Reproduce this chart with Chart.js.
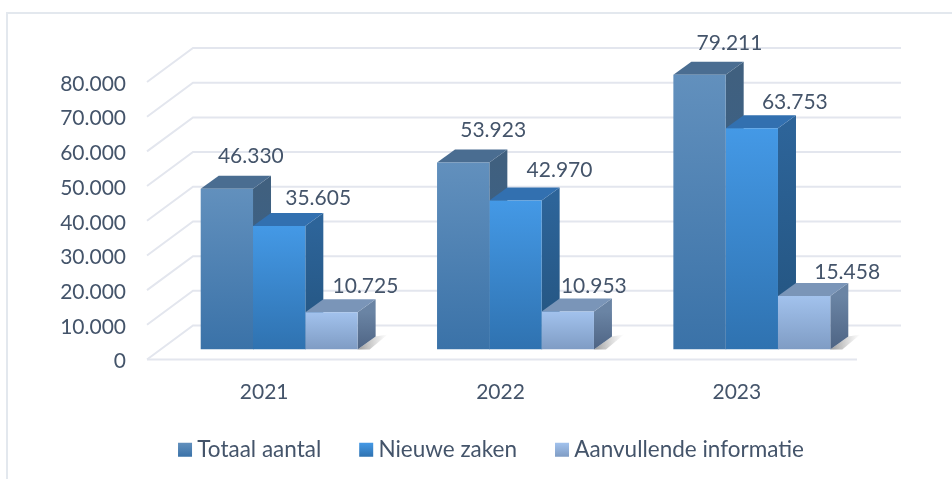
<!DOCTYPE html>
<html>
<head>
<meta charset="utf-8">
<script src="https://cdn.jsdelivr.net/npm/chart.js@4"></script>
<style>
  html, body { margin: 0; padding: 0; background: #ffffff; }
  #wrap { position: relative; width: 952px; height: 479px; overflow: hidden; }
  #frame { position: absolute; left: 6px; top: 12px; width: 946px; height: 467px; border-left: 2px solid #e3e8ee; border-top: 2px solid #e3e8ee; box-sizing: border-box; }
</style>
</head>
<body>
<div id="wrap">
  <div id="frame"></div>
  <canvas id="myChart" width="952" height="479" style="position:absolute;left:0;top:0"></canvas>
</div>
<script>
// Chart data
const years = ['2021', '2022', '2023'];
const totaalAantal = [46330, 53923, 79211];
const nieuweZaken = [35605, 42970, 63753];
const aanvullendeInformatie = [10725, 10953, 15458];
const seriesNames = ['Totaal aantal', 'Nieuwe zaken', 'Aanvullende informatie'];

// Colours per series: front gradient, top face, side gradient
const frontColors = [['#6290bd', '#3a72a8'], ['#4499e6', '#2f72b0'], ['#a2c2ed', '#7f9cc4']];
const topColors = ['#4a6d91', '#3270b0', '#7a95b8'];
const sideColors = [['#40607f', '#35628f'], ['#2d6499', '#23537e'], ['#6a84a4', '#4e6484']];

// Label offsets from the bar top centre, one row per series
const labelNudges = [[[24, -33], [30, -32], [30, -32]], [[39, -28], [44, -30], [43, -26]], [[34, -26], [26, -25], [43, -24]]];

const textColor = '#44546a';
const gridColor = '#e3e6ee';
const depthX = 18, depthY = -13; // bar extrusion

function dutchNumber(v) {
    return String(v).replace(/\B(?=(\d{3})+$)/g, '.');
}

function frontFill(c) {
    const chart = c.chart;
    if (c.type !== 'data' || !chart.chartArea) return frontColors[c.datasetIndex][0];
    const yScale = chart.scales.y;
    const g = chart.ctx.createLinearGradient(0, yScale.getPixelForValue(c.raw), 0, yScale.getPixelForValue(0));
    g.addColorStop(0, frontColors[c.datasetIndex][0]);
    g.addColorStop(1, frontColors[c.datasetIndex][1]);
    return g;
}

// Walls, floor shadow and the side and top faces all go under the bar fronts
const wallPlugin = {
    id: 'wall',
    afterLayout(chart) {
        // the legend sits right of the chart centre in the reference
        chart.legend.left += 56;
        chart.legend.right += 56;
    },
    beforeDatasetsDraw(chart) {
        const ctx = chart.ctx, y = chart.scales.y, area = chart.chartArea;
        ctx.save();
        ctx.strokeStyle = gridColor;
        ctx.lineWidth = 2;
        y.ticks.forEach(function (t) {
            const py = y.getPixelForValue(t.value);
            ctx.beginPath();
            ctx.moveTo(area.left - 14, py + 10);
            ctx.lineTo(area.left + 32, py - 24);
            ctx.lineTo(area.right + 31, py - 24);
            ctx.stroke();
        });
        // floor front edge
        ctx.beginPath();
        ctx.moveTo(area.left - 14, area.bottom + 10);
        ctx.lineTo(area.right - 13, area.bottom + 10);
        ctx.stroke();

        // soft shadow to the right of each group
        chart.getDatasetMeta(2).data.forEach(function (bar) {
            const right = bar.x + bar.width / 2;
            const g = ctx.createLinearGradient(right, 0, right + 30, 0);
            g.addColorStop(0, 'rgba(70,70,70,0.55)');
            g.addColorStop(1, 'rgba(120,120,120,0)');
            ctx.fillStyle = g;
            ctx.beginPath();
            ctx.moveTo(right, bar.base);
            ctx.lineTo(right + 12, bar.base);
            ctx.lineTo(right + 30, bar.base - 15);
            ctx.lineTo(right + depthX, bar.base + depthY);
            ctx.closePath();
            ctx.fill();
        });

        chart.data.datasets.forEach(function (ds, i) {
            chart.getDatasetMeta(i).data.forEach(function (bar) {
                const right = bar.x + bar.width / 2, left = bar.x - bar.width / 2;
                const side = ctx.createLinearGradient(0, bar.y, 0, bar.base);
                side.addColorStop(0, sideColors[i][0]);
                side.addColorStop(1, sideColors[i][1]);
                ctx.fillStyle = side;
                ctx.beginPath();
                ctx.moveTo(right, bar.y);
                ctx.lineTo(right + depthX, bar.y + depthY);
                ctx.lineTo(right + depthX, bar.base + depthY);
                ctx.lineTo(right, bar.base);
                ctx.closePath();
                ctx.fill();
                ctx.fillStyle = topColors[i];
                ctx.beginPath();
                ctx.moveTo(left, bar.y);
                ctx.lineTo(left + depthX, bar.y + depthY);
                ctx.lineTo(right + depthX, bar.y + depthY);
                ctx.lineTo(right, bar.y);
                ctx.closePath();
                ctx.fill();
            });
        });
        ctx.restore();
    }
};

// Value labels and the gradient legend swatches
const valuePlugin = {
    id: 'values',
    afterDatasetsDraw(chart) {
        const ctx = chart.ctx;
        ctx.save();
        ctx.font = '21px Lato';
        ctx.fillStyle = textColor;
        ctx.textAlign = 'center';
        ctx.textBaseline = 'middle';
        chart.data.datasets.forEach(function (ds, i) {
            chart.getDatasetMeta(i).data.forEach(function (bar, j) {
                const nudge = labelNudges[i][j];
                ctx.fillText(dutchNumber(ds.data[j]), bar.x + nudge[0], bar.y + nudge[1]);
            });
        });
        ctx.restore();
    },
    afterDraw(chart) {
        const ctx = chart.ctx;
        chart.legend.legendHitBoxes.forEach(function (box, i) {
            const top = box.top + box.height / 2 - 7;
            const g = ctx.createLinearGradient(0, top, 0, top + 14);
            g.addColorStop(0, frontColors[i][0]);
            g.addColorStop(1, frontColors[i][1]);
            ctx.fillStyle = g;
            ctx.fillRect(box.left, top, 14, 14);
        });
    }
};

const ctx = document.getElementById('myChart').getContext('2d');

new Chart(ctx, {
    type: 'bar',
    data: {
        labels: years,
        datasets: [
            { label: seriesNames[0], data: totaalAantal, backgroundColor: frontFill },
            { label: seriesNames[1], data: nieuweZaken, backgroundColor: frontFill },
            { label: seriesNames[2], data: aanvullendeInformatie, backgroundColor: frontFill }
        ]
    },
    plugins: [wallPlugin, valuePlugin],
    options: {
        responsive: false,
        animation: false,
        datasets: { bar: { categoryPercentage: 0.664, barPercentage: 1 } },
        layout: { padding: { top: 72, right: 82, bottom: 8, left: 0 } },
        scales: {
            x: {
                afterFit(scale) { scale.height = 51; },
                grid: { display: false },
                border: { display: false },
                ticks: { color: textColor, font: { family: 'Lato', size: 21 }, padding: 22, maxRotation: 0, labelOffset: -15 }
            },
            y: {
                min: 0,
                max: 80000,
                afterFit(scale) { scale.width = 161; },
                grid: { display: false, drawTicks: false },
                border: { display: false },
                ticks: {
                    stepSize: 10000,
                    color: textColor,
                    font: { family: 'Lato', size: 21 },
                    padding: 35,
                    labelOffset: 12,
                    callback: function (v) { return dutchNumber(v); }
                }
            }
        },
        plugins: {
            tooltip: { enabled: false },
            legend: {
                position: 'bottom',
                labels: {
                    color: textColor,
                    font: { family: 'Lato', size: 22.5 },
                    boxWidth: 8,
                    boxHeight: 14,
                    padding: 38,
                    generateLabels: function (chart) {
                        return seriesNames.map(function (name, i) {
                            return { text: name, fillStyle: 'rgba(0,0,0,0)', strokeStyle: 'rgba(0,0,0,0)', lineWidth: 0, fontColor: textColor, datasetIndex: i };
                        });
                    }
                }
            }
        }
    }
});
</script>
</body>
</html>
